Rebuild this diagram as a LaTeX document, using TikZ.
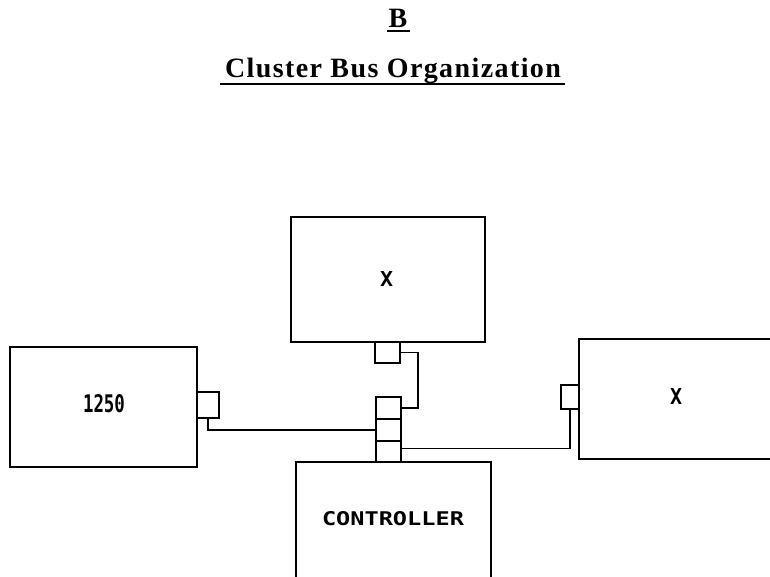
\documentclass[tikz,border=0pt]{standalone}
\usepackage{graphicx}
\usepackage{fontspec}
\setmainfont{Liberation Serif}
\newfontfamily\labfont{DejaVu Sans Mono}
\begin{document}
\begin{tikzpicture}[x=1pt,y=-1pt,
  box/.style={draw,line width=1.5pt,inner sep=0pt,outer sep=0pt,rectangle},
  port/.style={draw,line width=1.5pt,inner sep=0pt,outer sep=0pt,rectangle},
  wire/.style={line width=1.5pt},
  lab/.style={inner sep=0pt,outer sep=0pt},
  ttl/.style={inner sep=0pt,outer sep=0pt,font=\fontsize{28}{32}\selectfont\bfseries}]
\useasboundingbox (0,0) rectangle (770,577);
% titles
\node[ttl,anchor=base] (b) at (398,28) {B};
\draw[line width=1.3pt] (387,31) -- (410,31);
\node[ttl,anchor=base] (title) at (393,78) {\addfontfeatures{LetterSpace=5}Cluster Bus Organization};
\draw[line width=1.3pt] (220,84) -- (565,84);
% boxes
\node[box,minimum width=194pt,minimum height=125pt] (top) at (388,279.5) {};
\node[box,minimum width=187pt,minimum height=120pt] (left) at (103.5,407) {};
\node[box,minimum width=200pt,minimum height=120pt] (right) at (679,399) {};
\node[box,minimum width=195pt,minimum height=123pt] (ctrl) at (393.5,523.5) {};
% labels
\node[lab] (xt) at (386.5,279) {\resizebox{13pt}{15pt}{\labfont\bfseries X}};
\node[lab] (l1250) at (104,403.5) {\resizebox{42pt}{18pt}{\labfont\bfseries 1250}};
\node[lab] (xr) at (676,396) {\resizebox{12pt}{16pt}{\labfont\bfseries X}};
\node[lab] (ct) at (393,519) {\resizebox{142pt}{14pt}{\labfont\bfseries CONTROLLER}};
% ports
\node[port,minimum width=25pt,minimum height=21pt] (tp) at (387.5,352.5) {};
\node[port,minimum width=22pt,minimum height=26pt] (lp) at (208,405) {};
\node[port,minimum width=18pt,minimum height=24pt] (rp) at (570,397) {};
\node[port,minimum width=25pt,minimum height=22pt] (s1) at (388.5,408) {};
\node[port,minimum width=25pt,minimum height=22pt] (s2) at (388.5,430) {};
\node[port,minimum width=25pt,minimum height=21pt] (s3) at (388.5,451.5) {};
% wires
\draw[wire] (tp.east) -- ++(18,0) |- (s1.east);
\draw[wire] (lp.south) |- (s2.west);
\draw[wire] (rp.south) |- ([yshift=3pt]s3.east);
\end{tikzpicture}
\end{document}
